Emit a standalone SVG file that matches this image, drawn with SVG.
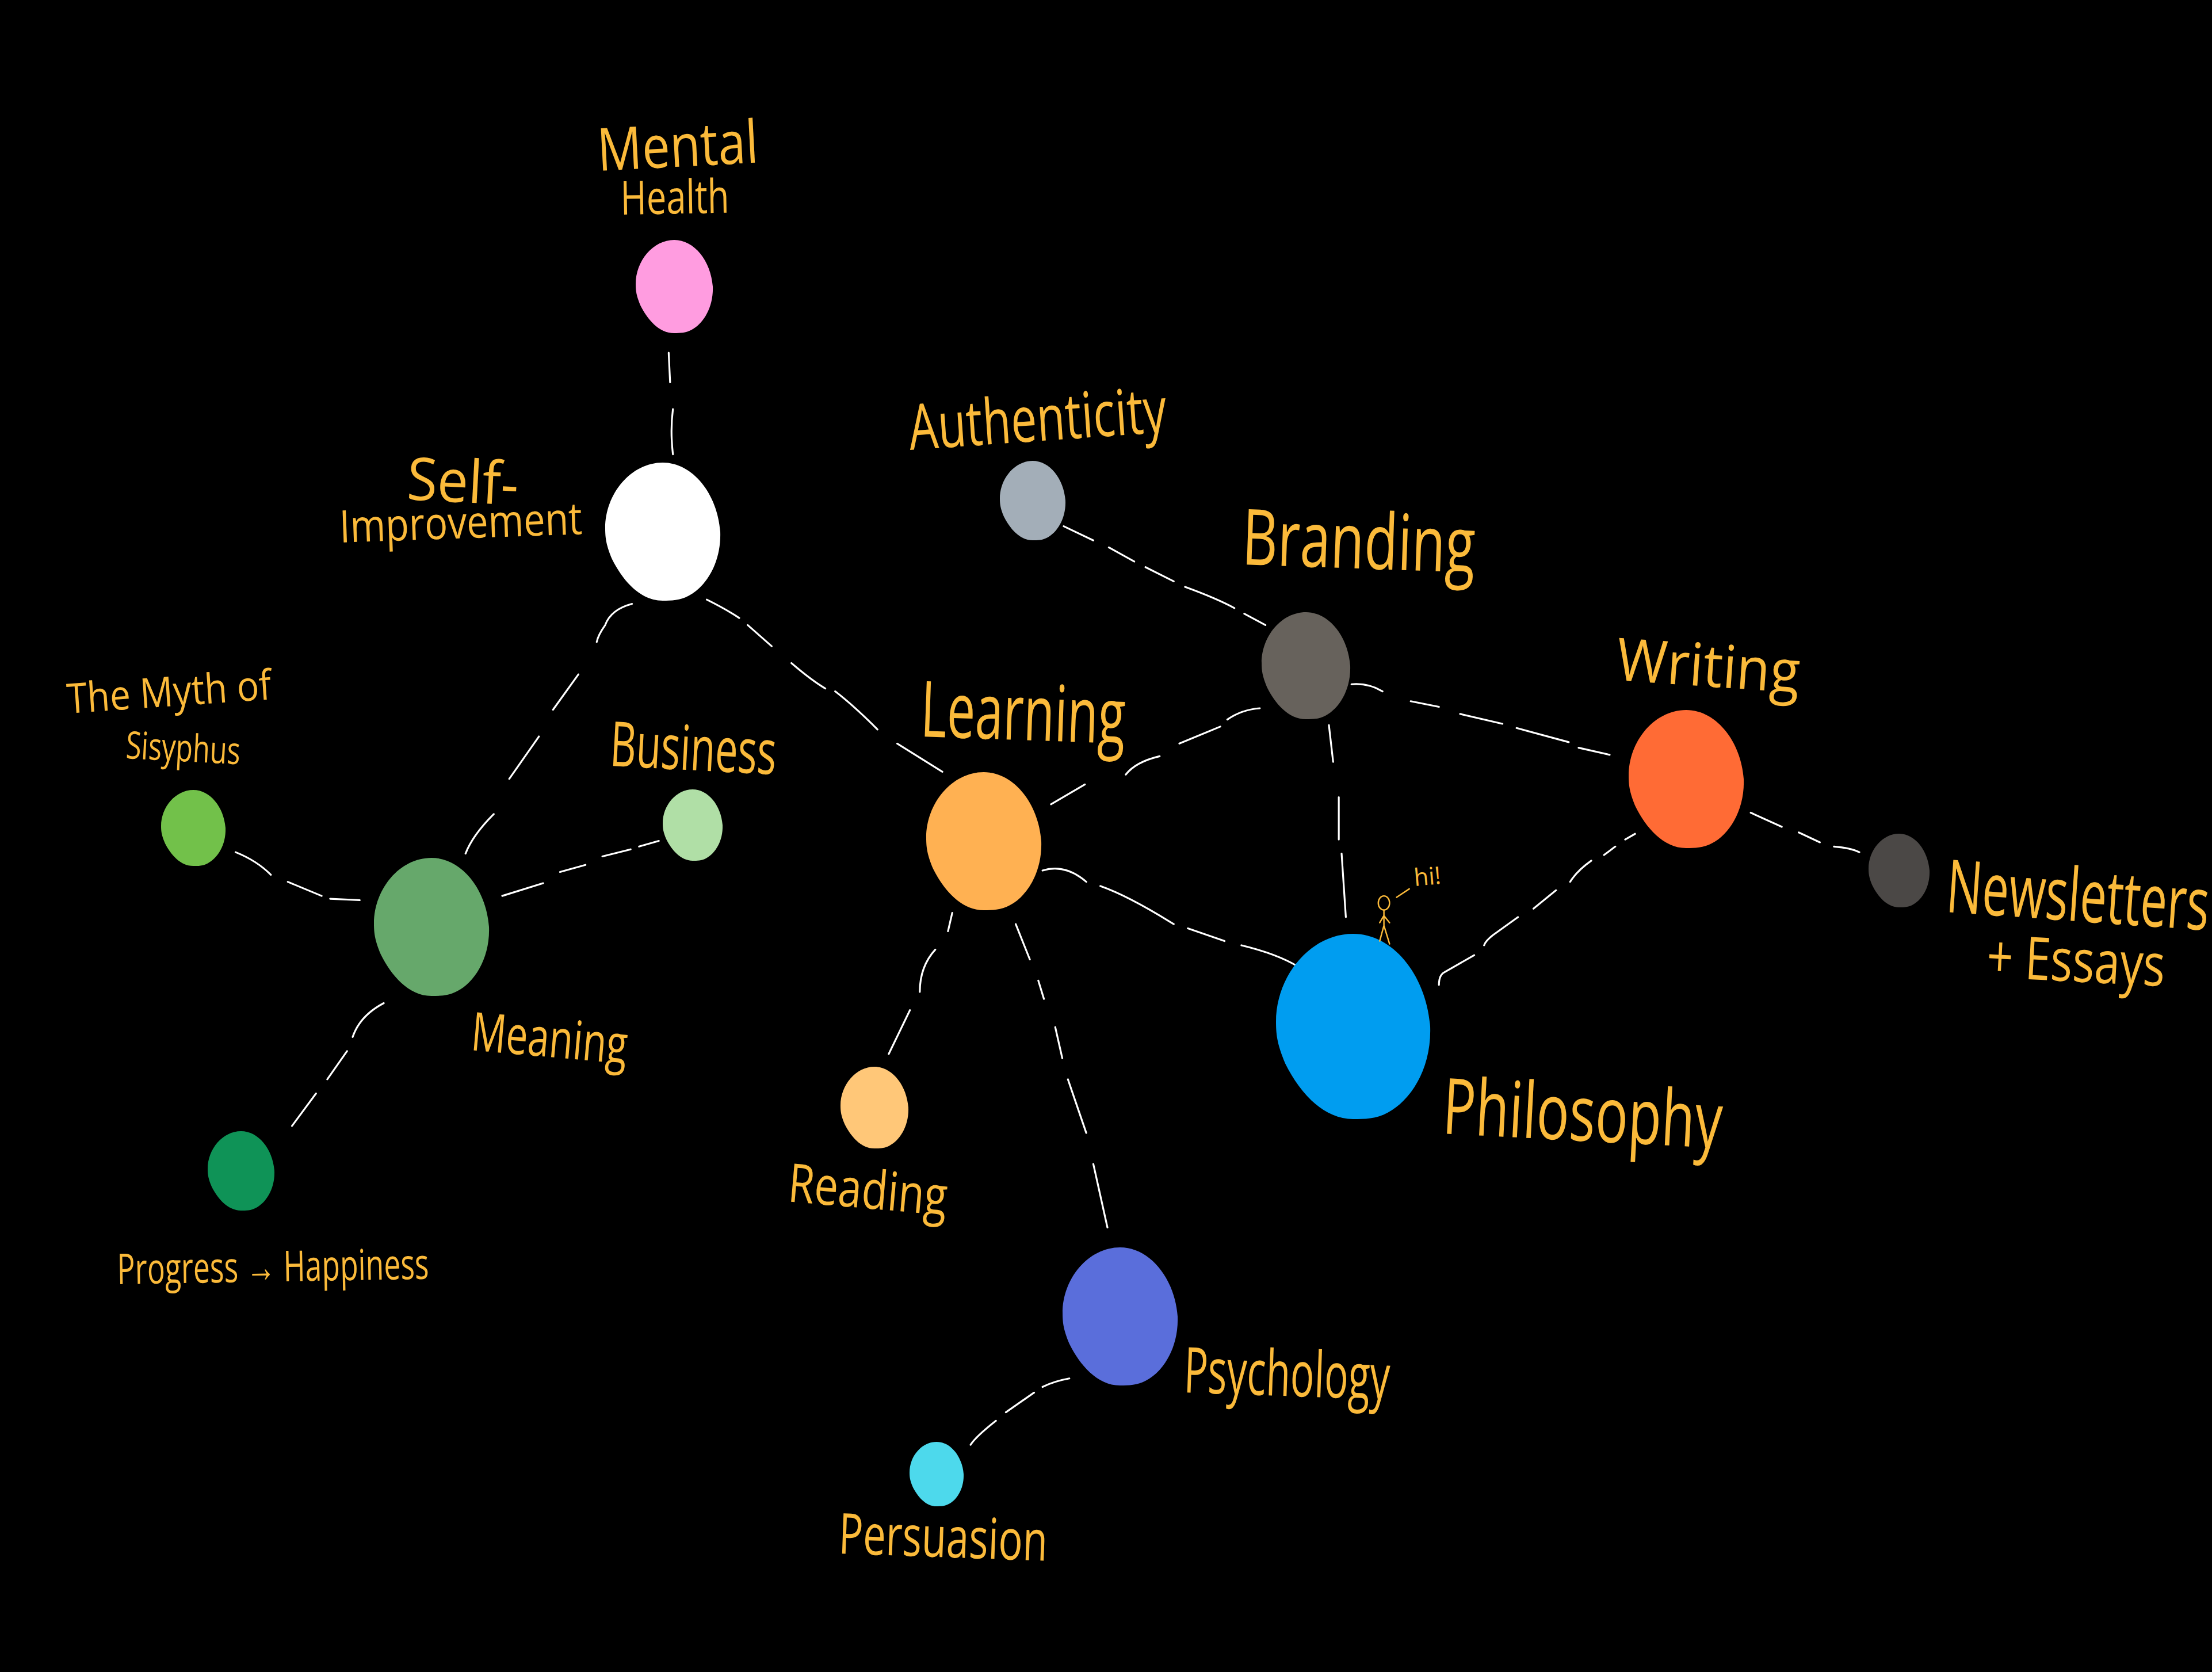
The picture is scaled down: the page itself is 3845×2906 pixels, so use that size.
<svg xmlns="http://www.w3.org/2000/svg" width="3845" height="2906" viewBox="0 0 3845 2906">
<style>
.label{font-family:"Open Sans","Liberation Sans",sans-serif;fill:#FBBA3A;font-weight:400}
.dash{fill:none;stroke:#fff;stroke-width:1.3;stroke-linecap:round;stroke-linejoin:round}
.fig{fill:none;stroke:#FBBA3A;stroke-width:1;stroke-linecap:round}
</style>
<defs>
<path id="blob" d="M0,-1 C.52,-1 .95,-.55 1,0 C1.02,.45 .75,.8 .45,.93 C.3,1 .15,1 0,1 C-.4,1 -.7,.7 -.88,.4 C-.98,.2 -1,.1 -1,-.05 C-1,-.55 -.55,-1 0,-1Z"/>
</defs>
<rect width="3845" height="2906" fill="#000"/>
<g id="connectors" class="dash" transform="scale(2.4522)">
<path id="mental-self" d="M474,250L475,271M477,290Q475,305 477,322"/>
<path id="self-meaning" d="M448,428Q433,432 429,443Q424,450 423,455M410,478L392,503M382,522L361,552M350,577Q335,592 330,605"/>
<path id="self-learning" d="M501,425Q515,432 524,438M530,443L547,458M561,470Q575,482 585,488M592,490Q605,500 622,517M636,527L668,547"/>
<path id="auth-branding" d="M754,373L775,383M786,388L804,398M812,402L832,412M840,416Q862,424 875,431M882,435L897,443"/>
<path id="branding-writing" d="M958,485Q970,484 980,490M1000,497L1020,501M1035,506L1065,513M1075,516L1112,526M1119,530L1141,535"/>
<path id="branding-learning" d="M745,570L769,556M798,549Q805,540 822,536M836,527L865,515M870,510Q880,503 893,502"/>
<path id="branding-philosophy" d="M942,514L945,540M949,565L949,595M951,605L954,650"/>
<path id="writing-philosophy" d="M1020,698Q1020,691 1024,689L1045,677M1052,670Q1053,667 1058,663L1076,650M1087,644L1103,631M1113,625Q1118,617 1128,610M1137,606L1145,600M1152,595L1159,591"/>
<path id="writing-newsletters" d="M1241,576L1263,586M1275,590L1290,597M1300,600Q1312,601 1318,604"/>
<path id="learning-philosophy" d="M739,617Q755,612 770,625M780,628Q800,635 832,655M842,658L868,667M880,670Q905,676 920,685"/>
<path id="learning-reading" d="M675,647L672,660M663,673Q652,685 652,703M645,716L630,747"/>
<path id="learning-psychology" d="M720,655L730,680M736,695L740,708M748,728L753,750M757,765L770,803M775,825L785,870"/>
<path id="psychology-persuasion" d="M758,977Q747,979 739,983M733,987L713,1001M706,1007Q692,1018 688,1024"/>
<path id="meaning-business" d="M356,635L385,626M397,618L415,613M427,607L447,602M453,600L467,596"/>
<path id="meaning-sisyphus" d="M167,604Q182,610 192,620M204,625L228,635M234,637L255,638"/>
<path id="meaning-progress" d="M272,711Q255,720 250,735M246,745L232,765M224,775L207,798"/>
</g>
<g id="node-mental-health"><use href="#blob" transform="translate(1172,498) scale(67,81)" fill="#FF9CE0"/>
<text class="label" transform="translate(1040,297) rotate(-3)" font-size="103" textLength="280" lengthAdjust="spacingAndGlyphs">Mental</text>
<text class="label" transform="translate(1079,373) rotate(-1)" font-size="81" textLength="189" lengthAdjust="spacingAndGlyphs">Health</text></g>
<g id="node-self-improvement"><use href="#blob" transform="translate(1152,924) scale(100,120)" fill="#fff"/>
<text class="label" transform="translate(706,868) rotate(3)" font-size="103" textLength="194" lengthAdjust="spacingAndGlyphs">Self-</text>
<text class="label" transform="translate(591,943) rotate(-2)" font-size="78" textLength="422" lengthAdjust="spacingAndGlyphs">Improvement</text></g>
<g id="node-authenticity"><use href="#blob" transform="translate(1795,870) scale(57,69)" fill="#A3AEB8"/>
<text class="label" transform="translate(1582,782) rotate(-4)" font-size="110" textLength="449" lengthAdjust="spacingAndGlyphs">Authenticity</text></g>
<g id="node-branding"><use href="#blob" transform="translate(2270,1157) scale(77,93)" fill="#67625C"/>
<text class="label" transform="translate(2158,981) rotate(2)" font-size="135" textLength="405" lengthAdjust="spacingAndGlyphs">Branding</text></g>
<g id="node-writing"><use href="#blob" transform="translate(2931,1354) scale(100,120)" fill="#FF6B35"/>
<text class="label" transform="translate(2808,1182) rotate(4)" font-size="103" textLength="319" lengthAdjust="spacingAndGlyphs">Writing</text></g>
<g id="node-newsletters"><use href="#blob" transform="translate(3301,1513) scale(53,64)" fill="#4B4846"/>
<text class="label" transform="translate(3381,1585) rotate(4) scale(.645,1)" font-size="128">Newsletters</text>
<text class="label" transform="translate(3452,1698) rotate(3) scale(.777,1)" font-size="103">+ Essays</text></g>
<g id="node-learning"><use href="#blob" transform="translate(1710,1462) scale(100,120)" fill="#FFB152"/>
<text class="label" transform="translate(1599,1280) rotate(2)" font-size="135" textLength="356" lengthAdjust="spacingAndGlyphs">Learning</text></g>
<g id="node-philosophy"><use href="#blob" transform="translate(2352,1784) scale(134,161)" fill="#009DF0"/>
<text class="label" transform="translate(2506,1970) rotate(3)" font-size="135" textLength="486" lengthAdjust="spacingAndGlyphs">Philosophy</text>
<g class="fig" transform="scale(2.4522)"><ellipse cx="981" cy="640" rx="4" ry="5"/><path d="M981,645L981,656M981,649L978,654M981,649L985,654M981,656L978,667M981,656L985,669M990,636L999,630"/></g>
<text class="label" transform="translate(2459,1540) rotate(-5)" font-size="42" textLength="47" lengthAdjust="spacingAndGlyphs">hi!</text></g>
<g id="node-meaning"><use href="#blob" transform="translate(750,1611) scale(100,120)" fill="#66A86B"/>
<text class="label" transform="translate(817,1825) rotate(5)" font-size="93" textLength="272" lengthAdjust="spacingAndGlyphs">Meaning</text></g>
<g id="node-business"><use href="#blob" transform="translate(1204,1434) scale(52,62)" fill="#B0DFA6"/>
<text class="label" transform="translate(1059,1331) rotate(3)" font-size="108" textLength="289" lengthAdjust="spacingAndGlyphs">Business</text></g>
<g id="node-sisyphus"><use href="#blob" transform="translate(336,1439) scale(56,66)" fill="#72C14A"/>
<text class="label" transform="translate(118,1240) rotate(-4)" font-size="72" textLength="356" lengthAdjust="spacingAndGlyphs">The Myth of</text>
<text class="label" transform="translate(218,1318) rotate(3)" font-size="66" textLength="199" lengthAdjust="spacingAndGlyphs">Sisyphus</text></g>
<g id="node-progress"><use href="#blob" transform="translate(419,2035) scale(58,69)" fill="#0F9357"/>
<text class="label" transform="translate(204,2232) rotate(-1)" font-size="74" textLength="542" lengthAdjust="spacingAndGlyphs">Progress → Happiness</text></g>
<g id="node-reading"><use href="#blob" transform="translate(1520,1925) scale(59,71)" fill="#FFC778"/>
<text class="label" transform="translate(1368,2088) rotate(5)" font-size="93" textLength="277" lengthAdjust="spacingAndGlyphs">Reading</text></g>
<g id="node-psychology"><use href="#blob" transform="translate(1947,2288) scale(100,120)" fill="#5A6EDB"/>
<text class="label" transform="translate(2057,2420) rotate(2)" font-size="110" textLength="358" lengthAdjust="spacingAndGlyphs">Psychology</text></g>
<g id="node-persuasion"><use href="#blob" transform="translate(1628,2562) scale(47,56)" fill="#4DD9EC"/>
<text class="label" transform="translate(1457,2700) rotate(2)" font-size="98" textLength="363" lengthAdjust="spacingAndGlyphs">Persuasion</text></g>
</svg>
